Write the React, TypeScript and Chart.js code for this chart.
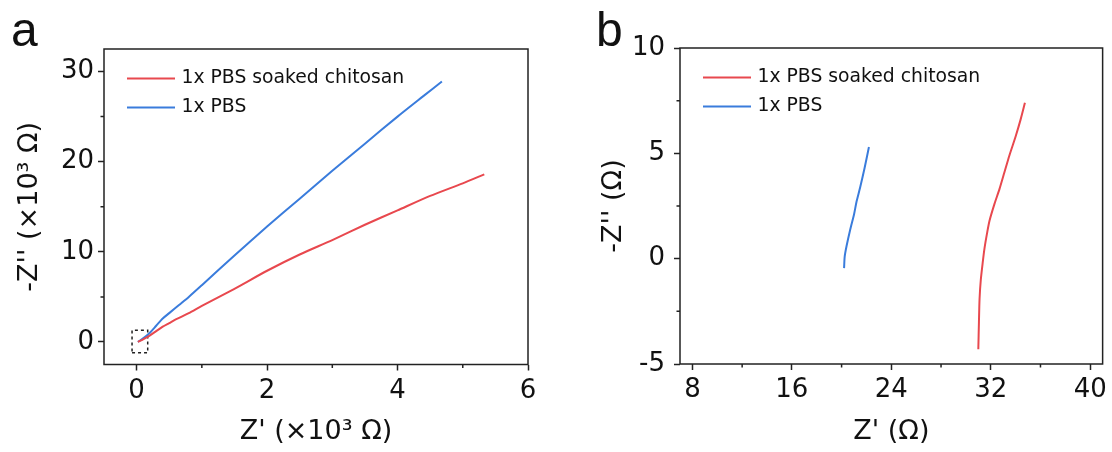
import React, { useEffect, useRef } from "react";
import { Chart, registerables } from "chart.js";

Chart.register(...registerables);

const FONT = "'DejaVu Sans', 'Liberation Sans', Arial, sans-serif";
const LABEL_FONT = "'Liberation Sans', Arial, Helvetica, sans-serif";

const seriesNames = ["1x PBS soaked chitosan", "1x PBS"];
const seriesColors = ["#E8484E", "#3A7CDC"];

// Panel a: values in ×10³ Ω
const aChitosanX = [0.02, 0.1, 0.2, 0.3, 0.4, 0.5, 0.6, 0.8, 1.0, 1.5, 2.0, 2.5, 3.0, 3.5, 4.0, 4.5, 5.0, 5.33];
const aChitosanY = [0.0, 0.3, 0.7, 1.2, 1.7, 2.1, 2.5, 3.2, 4.0, 5.9, 7.9, 9.7, 11.3, 13.0, 14.6, 16.2, 17.6, 18.6];
const aPbsX = [0.02, 0.1, 0.2, 0.3, 0.4, 0.5, 0.65, 0.8, 1.0, 1.5, 2.0, 2.5, 3.0, 3.5, 4.0, 4.4, 4.68];
const aPbsY = [0.0, 0.4, 1.0, 1.8, 2.6, 3.2, 4.1, 5.0, 6.3, 9.6, 12.8, 15.9, 19.0, 22.0, 25.0, 27.3, 28.9];
const aBoxX = [-0.07, 0.17, 0.17, -0.07, -0.07];
const aBoxY = [-1.2, -1.2, 1.3, 1.3, -1.2];
const aXTicks = [0, 2, 4, 6];
const aXMinor = [1, 3, 5];
const aYTicks = [0, 10, 20, 30];
const aYMinor = [5, 15, 25];

// Panel b: values in Ω
const bChitosanX = [31.0, 31.05, 31.1, 31.2, 31.35, 31.5, 31.7, 31.9, 32.3, 32.7, 33.1, 33.5, 34.0, 34.4, 34.75];
const bChitosanY = [-4.3, -3.0, -1.9, -1.0, -0.2, 0.5, 1.2, 1.8, 2.6, 3.3, 4.1, 4.9, 5.8, 6.6, 7.4];
const bPbsX = [20.2, 20.25, 20.4, 20.7, 21.0, 21.2, 21.5, 21.85, 22.2];
const bPbsY = [-0.45, 0.1, 0.6, 1.4, 2.1, 2.7, 3.4, 4.3, 5.3];
const bXTicks = [8, 16, 24, 32, 40];
const bXMinor = [12, 20, 28, 36];
const bYTicks = [-5, 0, 5, 10];
const bYMinor = [-2.5, 2.5, 7.5];

function pts(xs: number[], ys: number[]) {
  return xs.map((x, i) => ({ x, y: ys[i] }));
}

type PanelCfg = {
  label: string;
  labelX: number;
  xMin: number; xMax: number; yMin: number; yMax: number;
  xTicks: number[]; xMinor: number[]; yTicks: number[]; yMinor: number[];
  xTitle: string; yTitle: string;
  padTop: number; padRight: number; yAxisW: number; xAxisH: number;
  yTitlePad: number; yTickPad: number;
  series: { x: number[]; y: number[] }[];
  box?: { x: number[]; y: number[] };
};

function decorPlugin(p: PanelCfg) {
  return {
    id: "decor",
    afterDatasetsDraw(chart: any) {
      const { ctx, chartArea: ca, scales } = chart;
      const xs = scales.x, ys = scales.y;
      ctx.save();
      ctx.strokeStyle = "#222";
      ctx.lineWidth = 1.5;
      ctx.strokeRect(ca.left, ca.top, ca.right - ca.left, ca.bottom - ca.top);
      ctx.beginPath();
      p.xMinor.forEach((v) => {
        const px = xs.getPixelForValue(v);
        ctx.moveTo(px, ca.bottom);
        ctx.lineTo(px, ca.bottom + 3.5);
      });
      p.yMinor.forEach((v) => {
        const py = ys.getPixelForValue(v);
        ctx.moveTo(ca.left, py);
        ctx.lineTo(ca.left - 3.5, py);
      });
      ctx.stroke();
      ctx.lineWidth = 2;
      seriesNames.forEach((name, i) => {
        const y = ca.top + 29.5 + i * 29;
        ctx.strokeStyle = seriesColors[i];
        ctx.beginPath();
        ctx.moveTo(ca.left + 23, y);
        ctx.lineTo(ca.left + 71, y);
        ctx.stroke();
        ctx.fillStyle = "#111";
        ctx.font = `18.8px ${FONT}`;
        ctx.textBaseline = "middle";
        ctx.textAlign = "left";
        ctx.fillText(name, ca.left + 77.5, y);
      });
      ctx.font = `48px ${LABEL_FONT}`;
      ctx.textBaseline = "alphabetic";
      ctx.textAlign = "left";
      ctx.fillStyle = "#111";
      ctx.fillText(p.label, p.labelX, 46);
      ctx.restore();
    },
  };
}

function makeChart(canvas: HTMLCanvasElement, p: PanelCfg) {
  const datasets: any[] = p.series.map((s, i) => ({
    label: seriesNames[i],
    data: pts(s.x, s.y),
    borderColor: seriesColors[i],
    backgroundColor: seriesColors[i],
    borderWidth: 2,
    pointRadius: 0,
    showLine: true,
    tension: 0.25,
    fill: false,
  }));
  if (p.box) {
    datasets.push({
      label: "box",
      data: pts(p.box.x, p.box.y),
      borderColor: "#222",
      borderWidth: 1.5,
      borderDash: [3, 3],
      pointRadius: 0,
      showLine: true,
      tension: 0,
      fill: false,
    });
  }
  const tickFont = { family: FONT, size: 26 };
  const titleFont = { family: FONT, size: 27 };
  return new Chart(canvas, {
    type: "scatter",
    data: { datasets },
    plugins: [decorPlugin(p)],
    options: {
      animation: false,
      responsive: false,
      layout: { padding: { top: p.padTop, right: p.padRight, left: 0, bottom: 0 } },
      plugins: { legend: { display: false }, tooltip: { enabled: false } },
      scales: {
        x: {
          type: "linear",
          min: p.xMin,
          max: p.xMax,
          afterBuildTicks: (s: any) => { s.ticks = p.xTicks.map((v) => ({ value: v })); },
          afterFit: (s: any) => { s.height = p.xAxisH; },
          grid: { drawOnChartArea: false, drawTicks: true, tickLength: 6, tickWidth: 1.5, tickColor: "#222" },
          border: { display: false },
          ticks: { font: tickFont, color: "#111", padding: 5, maxRotation: 0, autoSkip: false, callback: (v: any) => String(v) },
          title: { display: true, text: p.xTitle, font: titleFont, color: "#111", padding: { top: 0, bottom: 3.8 } },
        },
        y: {
          type: "linear",
          min: p.yMin,
          max: p.yMax,
          afterBuildTicks: (s: any) => { s.ticks = p.yTicks.map((v) => ({ value: v })); },
          afterFit: (s: any) => { s.width = p.yAxisW; },
          grid: { drawOnChartArea: false, drawTicks: true, tickLength: 6, tickWidth: 1.5, tickColor: "#222" },
          border: { display: false },
          ticks: { font: tickFont, color: "#111", padding: p.yTickPad, autoSkip: false, callback: (v: any) => String(v) },
          title: { display: true, text: p.yTitle, font: titleFont, color: "#111", padding: { top: p.yTitlePad, bottom: 0 } },
        },
      },
    } as any,
  });
}

const panelA: PanelCfg = {
  label: "a", labelX: 11,
  xMin: -0.5, xMax: 6, yMin: -2.5, yMax: 32.5,
  xTicks: aXTicks, xMinor: aXMinor, yTicks: aYTicks, yMinor: aYMinor,
  xTitle: "Z' (×10³ Ω)", yTitle: "-Z'' (×10³ Ω)",
  padTop: 49, padRight: 28, yAxisW: 104, xAxisH: 87.5,
  yTitlePad: 13.3, yTickPad: 4,
  series: [{ x: aChitosanX, y: aChitosanY }, { x: aPbsX, y: aPbsY }],
  box: { x: aBoxX, y: aBoxY },
};

const panelB: PanelCfg = {
  label: "b", labelX: 40,
  xMin: 7, xMax: 41, yMin: -5, yMax: 10,
  xTicks: bXTicks, xMinor: bXMinor, yTicks: bYTicks, yMinor: bYMinor,
  xTitle: "Z' (Ω)", yTitle: "-Z'' (Ω)",
  padTop: 48, padRight: 9, yAxisW: 124, xAxisH: 88,
  yTitlePad: 41.8, yTickPad: 9,
  series: [{ x: bChitosanX, y: bChitosanY }, { x: bPbsX, y: bPbsY }],
};

function Panel({ cfg, left }: { cfg: PanelCfg; left: number }) {
  const ref = useRef<HTMLCanvasElement | null>(null);
  useEffect(() => {
    if (!ref.current) return;
    const c = makeChart(ref.current, cfg);
    return () => c.destroy();
  }, [cfg]);
  return (
    <div style={{ position: "absolute", left, top: 0, width: 556, height: 452 }}>
      <canvas ref={ref} width={556} height={452} style={{ width: 556, height: 452, display: "block" }} />
    </div>
  );
}

export default function App() {
  return (
    <div style={{ position: "absolute", left: 0, top: 0, width: 1112, height: 452, background: "#fff" }}>
      <Panel cfg={panelA} left={0} />
      <Panel cfg={panelB} left={556} />
    </div>
  );
}
